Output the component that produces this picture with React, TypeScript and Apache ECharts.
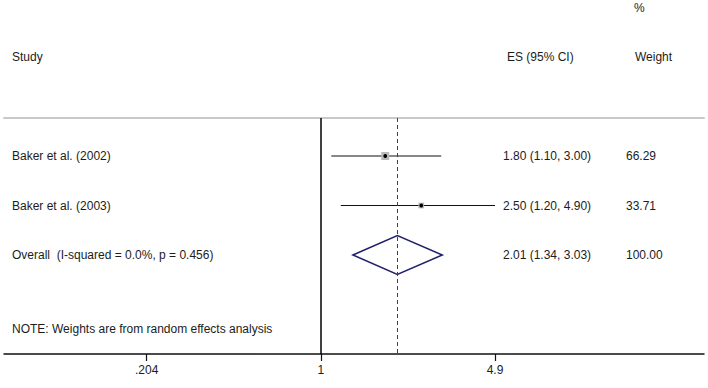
import React, { useEffect, useRef } from "react";
import * as echarts from "echarts";

// ---- data ----
const studyLabels = ["Baker et al. (2002)", "Baker et al. (2003)"];
const studyES = [1.8, 2.5];
const studyLo = [1.1, 1.2];
const studyHi = [3.0, 4.9];
const studyWeights = [66.29, 33.71];

const overallLabel = "Overall  (I-squared = 0.0%, p = 0.456)";
const overallES = 2.01;
const overallLo = 1.34;
const overallHi = 3.03;
const overallWeight = 100.0;

const xTickValues = [0.204, 1, 4.9];
const xTickLabels = [".204", "1", "4.9"];
const xAxisBounds = [0.0555, 33.0];

const headerES = "ES (95% CI)";
const headerStudy = "Study";
const headerWeight1 = "%";
const headerWeight2 = "Weight";
const noteText = "NOTE: Weights are from random effects analysis";

// ---- styles ----
const FONT = '12px "Liberation Sans", Arial, sans-serif';
const TXT = "#1c1c1c";
const COL_LABEL = 12;
const COL_ES = 503;
const COL_W = 626;

const fmt = (v: number) => v.toFixed(2);

export default function App() {
  const ref = useRef<HTMLDivElement>(null);
  useEffect(() => {
    document.body.style.margin = "0";
    if (!ref.current) return;
    const chart = echarts.init(ref.current, undefined, { renderer: "svg" });

    const rows: any[] = studyLabels.map((lab, i) => [
      Math.log(studyLo[i]),
      Math.log(studyES[i]),
      Math.log(studyHi[i]),
      i + 1,
      studyWeights[i],
      0,
      lab,
      `${fmt(studyES[i])} (${fmt(studyLo[i])}, ${fmt(studyHi[i])})`,
    ]);
    rows.push([
      Math.log(overallLo),
      Math.log(overallES),
      Math.log(overallHi),
      studyLabels.length + 1,
      overallWeight,
      1,
      overallLabel,
      `${fmt(overallES)} (${fmt(overallLo)}, ${fmt(overallHi)})`,
    ]);

    const tickLn = xTickValues.map((v) => Math.log(v));
    const labelFor = (val: number) => {
      let best = 0;
      let bd = Infinity;
      tickLn.forEach((t, i) => {
        const d = Math.abs(t - val);
        if (d < bd) {
          bd = d;
          best = i;
        }
      });
      return xTickLabels[best];
    };

    const option: any = {
      animation: false,
      grid: { left: 4, right: 4, top: 118, bottom: 34, containLabel: false },
      xAxis: [
        {
          type: "value",
          min: Math.log(xAxisBounds[0]),
          max: Math.log(xAxisBounds[1]),
          axisLine: { show: true, onZero: false, lineStyle: { color: "#111", width: 1.5 } },
          axisTick: { show: true, length: 7, customValues: tickLn, lineStyle: { color: "#111", width: 1.2 } },
          axisLabel: {
            show: true,
            customValues: tickLn,
            margin: 10,
            color: TXT,
            fontSize: 12,
            fontFamily: '"Liberation Sans", Arial, sans-serif',
            formatter: (v: number) => labelFor(v),
          },
          splitLine: { show: false },
        },
        {
          type: "value",
          position: "top",
          min: Math.log(xAxisBounds[0]),
          max: Math.log(xAxisBounds[1]),
          axisLine: { show: true, onZero: false, lineStyle: { color: "#c9c9c9", width: 2 } },
          axisTick: { show: false },
          axisLabel: { show: false },
          splitLine: { show: false },
        },
      ],
      yAxis: {
        type: "value",
        inverse: true,
        min: 0.232,
        max: 5.0,
        show: false,
        splitLine: { show: false },
      },
      graphic: [
        { type: "text", x: 634, y: 8, style: { text: headerWeight1, font: FONT, fill: TXT, verticalAlign: "middle" } },
        { type: "text", x: COL_LABEL, y: 57, style: { text: headerStudy, font: FONT, fill: TXT, verticalAlign: "middle" } },
        { type: "text", x: 507, y: 57, style: { text: headerES, font: FONT, fill: TXT, verticalAlign: "middle" } },
        { type: "text", x: 635, y: 57, style: { text: headerWeight2, font: FONT, fill: TXT, verticalAlign: "middle" } },
        { type: "text", x: COL_LABEL, y: 329, style: { text: noteText, font: FONT, fill: TXT, verticalAlign: "middle" } },
      ],
      series: [
        {
          type: "custom",
          xAxisIndex: 0,
          yAxisIndex: 0,
          data: rows,
          encode: { x: [0, 1, 2], y: 3 },
          renderItem: (params: any, api: any) => {
            const lo = api.value(0);
            const est = api.value(1);
            const hi = api.value(2);
            const row = api.value(3);
            const w = api.value(4);
            const kind = api.value(5);
            const d = rows[params.dataIndex];
            const pLo = api.coord([lo, row]);
            const pEst = api.coord([est, row]);
            const pHi = api.coord([hi, row]);
            const children: any[] = [];
            if (kind === 0) {
              children.push({
                type: "line",
                shape: { x1: pLo[0], y1: pLo[1], x2: pHi[0], y2: pHi[1] },
                style: { stroke: "#111", lineWidth: 1.2 },
              });
              const side = 0.98 * Math.sqrt(w);
              children.push({
                type: "rect",
                shape: { x: pEst[0] - side / 2, y: pEst[1] - side / 2, width: side, height: side },
                style: { fill: "#b9b9b9" },
              });
              children.push({
                type: "circle",
                shape: { cx: pEst[0], cy: pEst[1], r: 1.9 },
                style: { fill: "#000" },
              });
            } else {
              const h = 19.5;
              children.push({
                type: "polygon",
                shape: {
                  points: [
                    [pLo[0], pLo[1]],
                    [pEst[0], pEst[1] - h],
                    [pHi[0], pHi[1]],
                    [pEst[0], pEst[1] + h],
                  ],
                },
                style: { fill: "none", stroke: "#20206e", lineWidth: 1.5 },
              });
            }
            children.push({
              type: "text",
              x: COL_LABEL,
              y: pEst[1],
              style: { text: d[6], font: FONT, fill: TXT, verticalAlign: "middle" },
            });
            children.push({
              type: "text",
              x: COL_ES,
              y: pEst[1],
              style: { text: d[7], font: FONT, fill: TXT, verticalAlign: "middle" },
            });
            children.push({
              type: "text",
              x: COL_W,
              y: pEst[1],
              style: { text: fmt(w), font: FONT, fill: TXT, verticalAlign: "middle" },
            });
            return { type: "group", children };
          },
          markLine: {
            silent: true,
            symbol: "none",
            label: { show: false },
            data: [
              { xAxis: 0, lineStyle: { color: "#000", width: 1.5, type: "solid" } },
              { xAxis: Math.log(overallES), lineStyle: { color: "#8c1f2f", width: 1, type: [4, 3] } },
            ],
          },
          z: 3,
        },
      ],
    };
    chart.setOption(option);
    return () => chart.dispose();
  }, []);
  return <div ref={ref} style={{ width: 708, height: 388 }} />;
}
